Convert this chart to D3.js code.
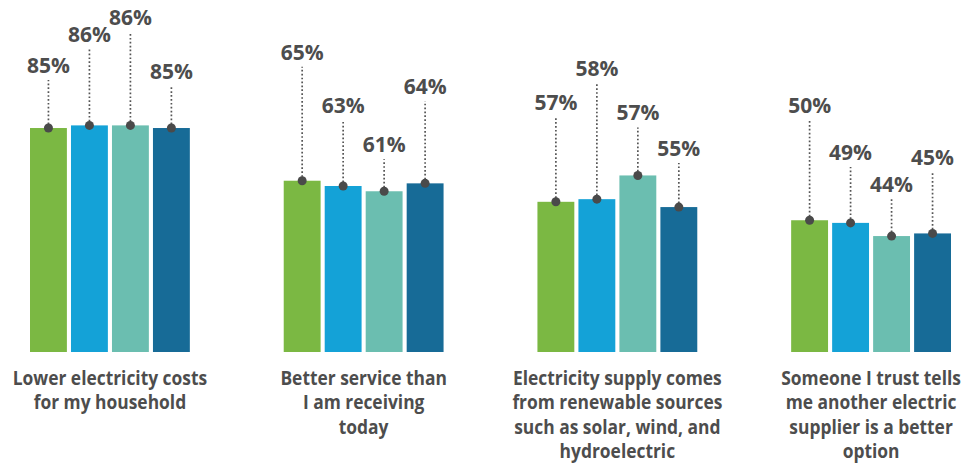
<!DOCTYPE html>
<html>
<head>
<meta charset="utf-8">
<script src="https://cdn.jsdelivr.net/npm/d3@7"></script>
<style>
  html, body { margin: 0; padding: 0; background: #ffffff; }
  svg { display: block; }
</style>
</head>
<body>
<svg id="chart" width="967" height="465"></svg>
<script>
// ---- Data ----
const categories = [
  "Lower electricity costs|for my household",
  "Better service than|I am receiving|today",
  "Electricity supply comes|from renewable sources|such as solar, wind, and|hydroelectric",
  "Someone I trust tells|me another electric|supplier is a better|option"
];
const seriesNames = ["Series 1", "Series 2", "Series 3", "Series 4"];
const series1 = [85, 65, 57, 50];
const series2 = [86, 63, 58, 49];
const series3 = [86, 61, 67, 44];
const series4 = [85, 64, 55, 45];
// value labels as printed on the chart
const labels1 = ["85%", "65%", "57%", "50%"];
const labels2 = ["86%", "63%", "58%", "49%"];
const labels3 = ["86%", "61%", "57%", "44%"];
const labels4 = ["85%", "64%", "55%", "45%"];

// ---- Layout (leader line lengths above each bar, px) ----
const leader1 = [48, 114, 85, 100];
const leader2 = [76, 66, 116, 56];
const leader3 = [93, 32, 48, 37];
const leader4 = [42, 82, 44, 61];

const colors = ["#7bb843", "#14a2d7", "#6bbeb0", "#176b97"];
const textColor = "#4d4d4d";

const allValues = [series1, series2, series3, series4];
const allLabels = [labels1, labels2, labels3, labels4];
const allLeaders = [leader1, leader2, leader3, leader4];

const data = categories.map((c, i) => ({
  cat: c,
  bars: seriesNames.map((s, j) => ({
    series: s, idx: j,
    value: allValues[j][i],
    label: allLabels[j][i],
    leader: allLeaders[j][i]
  }))
}));

const svg = d3.select("#chart");

const x0 = d3.scaleBand()
  .domain(categories)
  .range([30, 951])
  .paddingInner(0.37)
  .paddingOuter(0);

const x1 = d3.scaleBand()
  .domain(seriesNames)
  .range([0, x0.bandwidth()])
  .paddingInner(0.1)
  .paddingOuter(0);

const y = d3.scaleLinear().domain([0, 100]).range([352, 88.5]);

const groups = svg.selectAll("g.grp")
  .data(data)
  .join("g")
  .attr("class", "grp")
  .attr("transform", d => `translate(${x0(d.cat)},0)`);

// bars
groups.selectAll("rect")
  .data(d => d.bars)
  .join("rect")
  .attr("x", d => x1(d.series))
  .attr("y", d => y(d.value))
  .attr("width", x1.bandwidth())
  .attr("height", d => y(0) - y(d.value))
  .attr("fill", d => colors[d.idx]);

// leader lines
groups.selectAll("line.leader")
  .data(d => d.bars)
  .join("line")
  .attr("class", "leader")
  .attr("x1", d => x1(d.series) + x1.bandwidth() / 2)
  .attr("x2", d => x1(d.series) + x1.bandwidth() / 2)
  .attr("y1", d => y(d.value))
  .attr("y2", d => y(d.value) - d.leader)
  .attr("stroke", "#555")
  .attr("stroke-width", 1.7)
  .attr("stroke-dasharray", "1.7,2.2");

// dots
groups.selectAll("circle")
  .data(d => d.bars)
  .join("circle")
  .attr("cx", d => x1(d.series) + x1.bandwidth() / 2)
  .attr("cy", d => y(d.value))
  .attr("r", 4.5)
  .attr("fill", "#4a4a4a");

// value labels
groups.selectAll("text.val")
  .data(d => d.bars)
  .join("text")
  .attr("class", "val")
  .attr("x", d => x1(d.series) + x1.bandwidth() / 2)
  .attr("y", d => y(d.value) - d.leader - 7)
  .attr("text-anchor", "middle")
  .attr("font-family", "'Open Sans', sans-serif")
  .attr("font-weight", 700)
  .attr("font-size", 21)
  .attr("fill", textColor)
  .text(d => d.label);

// category labels
const catText = groups.append("text")
  .attr("text-anchor", "middle")
  .attr("font-family", "'Open Sans', sans-serif")
  .attr("font-weight", 700)
  .attr("font-size", 20)
  .attr("fill", textColor)
  .attr("transform", `translate(${x0.bandwidth() / 2},0) scale(0.87,1)`);

catText.selectAll("tspan")
  .data(d => d.cat.split("|"))
  .join("tspan")
  .attr("x", 0)
  .attr("y", (d, i) => 385 + i * 24.5)
  .text(d => d);
</script>
</body>
</html>
